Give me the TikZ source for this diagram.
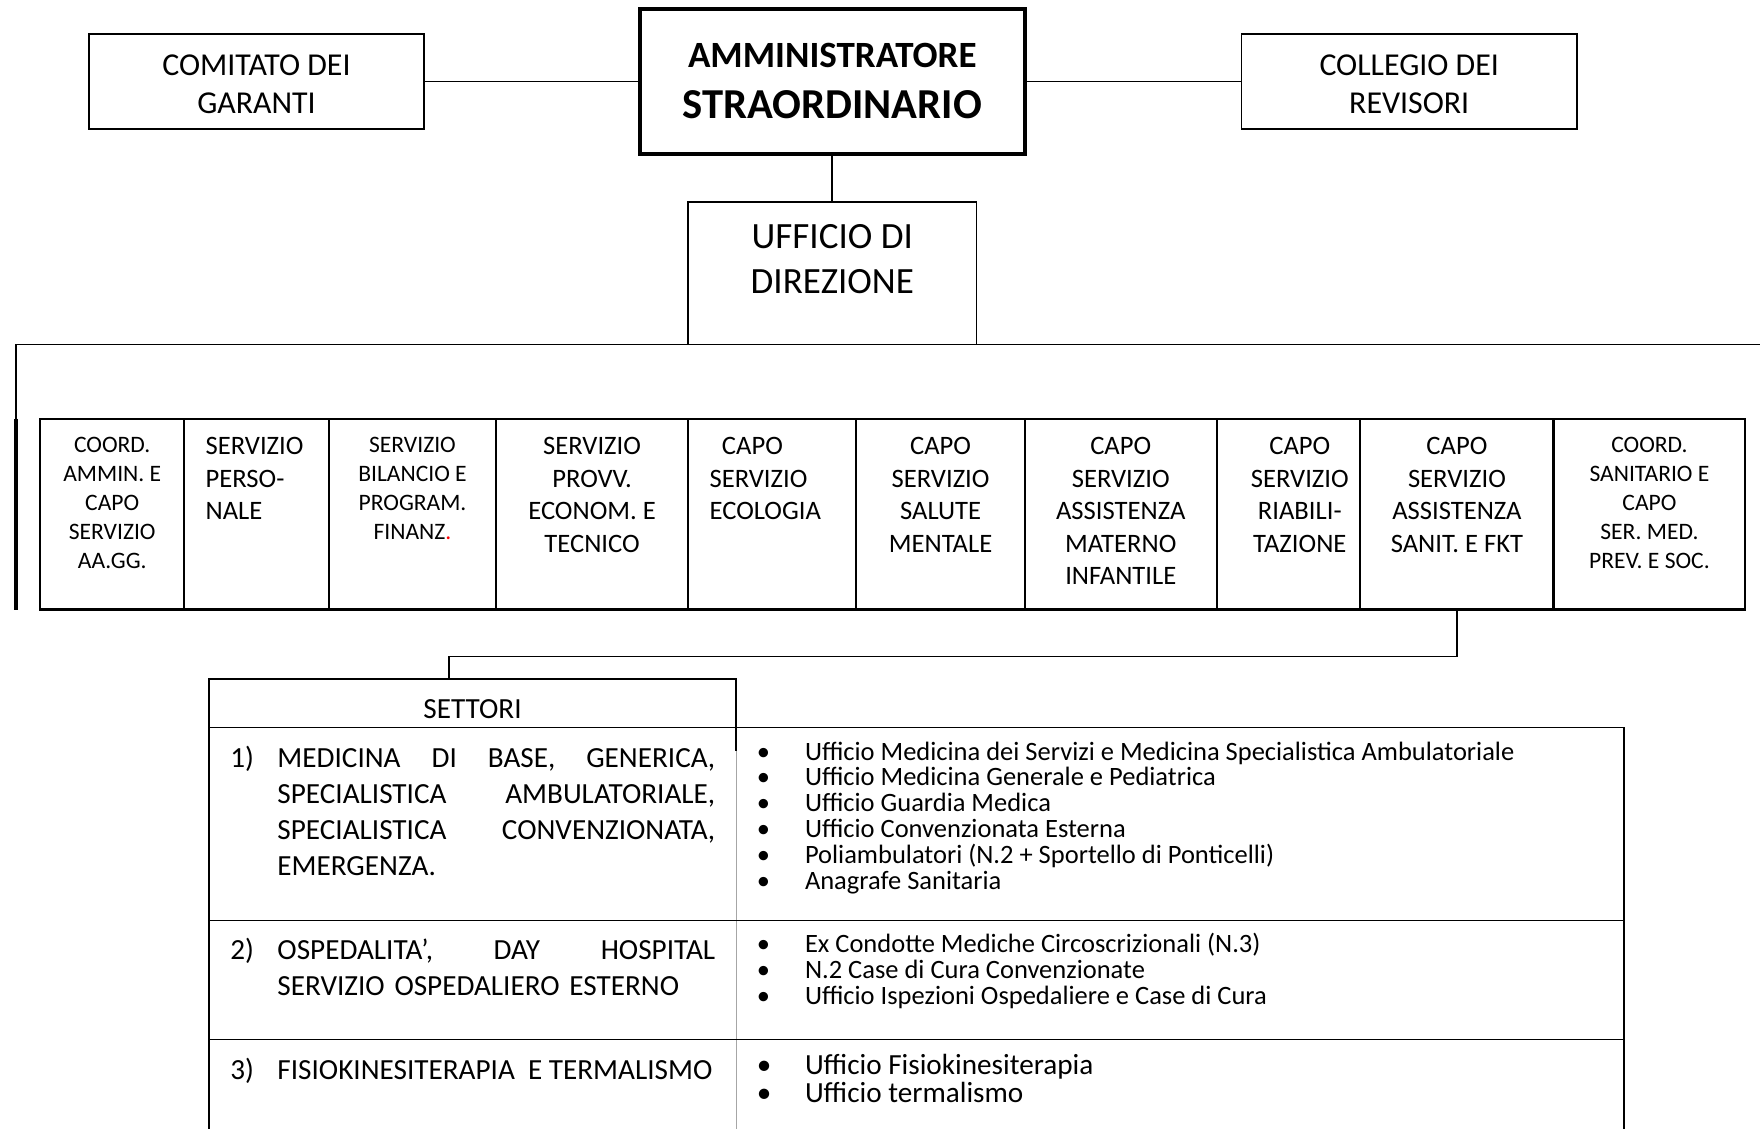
\documentclass[tikz,border=0pt]{standalone}
\usepackage{fontspec}
\setmainfont{Carlito}
\usepackage{tikz}
\usetikzlibrary{positioning}
\newcommand{\fsz}[2]{\fontsize{#1}{#2}\selectfont}
\newcommand{\capstrut}{\rule{0pt}{.7\baselineskip}}
\newcommand{\dotitem}{\makebox[43pt][l]{\textbullet}}
\tikzstyle{box} = [rectangle, draw, line width=1.5, inner sep=0, outer sep=0, align=center]
\tikzstyle{boss} = [rectangle, draw, line width=4, inner sep=0, outer sep=0, align=center, font=\bfseries\fsz{33}{45.6}]
\tikzstyle{unit} = [rectangle, draw, line width=1.8, inner sep=0, outer sep=0, minimum height=170]
\tikzstyle{unitsmall} = [inner sep=0, align=center, font=\fsz{21}{26}]
\tikzstyle{unitbig} = [inner sep=0, align=center, font=\fsz{23.7}{29}]
\tikzstyle{link} = [line width=1.5]
\tikzstyle{settext} = [inner sep=0, anchor=north west, align=left, font=\fsz{26}{32}]
\tikzstyle{office} = [inner sep=0, anchor=north west, align=left, font=\fsz{23.6}{23}]

\begin{document}
\begin{tikzpicture}[x=1pt, y=-1pt]
\fill[white] (0,0) rectangle (1568,1005);
\useasboundingbox (0,0) rectangle (1568,1005);

% vertice
\node[boss, minimum width=343, minimum height=129] (amm) at (741.5,72.5) {AMMINISTRATORE\\{\fsz{38}{45.6}STRAORDINARIO}};
\node[box, minimum width=299, minimum height=85, font=\fsz{28.4}{34}] (comitato) at (228.5,72.5) {\rule{0pt}{23.2pt}COMITATO DEI\\GARANTI};
\node[box, minimum width=299, minimum height=85, font=\fsz{28.4}{34}] (collegio) at (1255.5,72.5) {\rule{0pt}{23.2pt}COLLEGIO DEI\\REVISORI};
\node[box, minimum width=257, minimum height=127, font=\fsz{33}{40}] (ufficio) at (741.5,243.5) {UFFICIO DI\\DIREZIONE\rule[-25.5pt]{0pt}{25.5pt}};

\draw[link] (comitato) -- (amm);
\draw[link] (amm) -- (collegio);
\draw[link] (amm) -- (ufficio);

% linea dei servizi
\coordinate (busL) at (14,307);
\coordinate (busR) at (1568,307);
\coordinate (barT) at (14,373);
\coordinate (barB) at (14,543);
\draw[link] (busR) -- (busL) -- (barT);
\draw[line width=3.6] (barT) -- (barB);

% servizi
\node[unit, minimum width=128, anchor=north west] (u1) at (36,373) {};
\node[unit, minimum width=129, right=0pt of u1] (u2) {};
\node[unit, minimum width=149, right=0pt of u2] (u3) {};
\node[unit, minimum width=171, right=0pt of u3] (u4) {};
\node[unit, minimum width=150, right=0pt of u4] (u5) {};
\node[unit, minimum width=150, right=0pt of u5] (u6) {};
\node[unit, minimum width=171, right=0pt of u6] (u7) {};
\node[unit, minimum width=128, right=0pt of u7] (u8) {};
\node[unit, minimum width=172, right=0pt of u8] (u9) {};
\node[unit, minimum width=171, right=0pt of u9] (u10) {};

\node[unitsmall, below=11.5pt of u1.north] (u1t) {\capstrut COORD.\\AMMIN. E\\CAPO\\SERVIZIO\\AA.GG.};
\node[unitbig, align=left, below right=11.5pt and 19pt of u2.north west] (u2t) {\capstrut SERVIZIO\\PERSO-\\NALE};
\node[unitsmall, below=11.5pt of u3.north] (u3t) {\capstrut SERVIZIO\\BILANCIO E\\PROGRAM.\\FINANZ\textcolor{red}{.}};
\node[unitbig, below=11.5pt of u4.north] (u4t) {\capstrut SERVIZIO\\PROVV.\\ECONOM. E\\TECNICO};
\node[unitbig, align=left, below right=11.5pt and 19pt of u5.north west] (u5t) {\capstrut\hspace*{11pt}CAPO\\SERVIZIO\\ECOLOGIA};
\node[unitbig, below=11.5pt of u6.north] (u6t) {\capstrut CAPO\\SERVIZIO\\SALUTE\\MENTALE};
\node[unitbig, below=11.5pt of u7.north] (u7t) {\capstrut CAPO\\SERVIZIO\\ASSISTENZA\\MATERNO\\INFANTILE};
\node[unitbig, below=11.5pt of u8.north, xshift=10pt] (u8t) {\capstrut CAPO\\SERVIZIO\\RIABILI-\\TAZIONE};
\node[unitbig, below=11.5pt of u9.north] (u9t) {\capstrut CAPO\\SERVIZIO\\ASSISTENZA\\SANIT. E FKT};
\node[unitsmall, below=11.5pt of u10.north] (u10t) {\capstrut COORD.\\SANITARIO E\\CAPO\\SER. MED.\\PREV. E SOC.};

% settori
\node[box, minimum width=470, minimum height=43, font=\fsz{26}{32}, text height=27.8pt, text depth=0pt] (settori) at (421,626.5) {SETTORI};
\coordinate (elbow) at (400,585);
\draw[link] (u9.south) |- (elbow) -- (elbow |- settori.north);

% tabella
\draw[link] (settori.south east) -- (1447,648) -- (1447,1010);
\draw[link] (settori.south west) -- (186,1010);
\draw[link] (settori.south east) -- (656,669);
\draw[line width=1, black!35] (656,669) -- (656,1010);
\draw[link] (186,820) -- (1447,820);
\draw[link] (186,926) -- (1447,926);

\node[settext] (n1) at (205,661) {\capstrut 1)};
\node[settext, text width=390] (s1) at (247,661) {\capstrut MEDICINA\hfill DI\hfill BASE,\hfill GENERICA,\\SPECIALISTICA\hfill AMBULATORIALE,\\SPECIALISTICA\hfill CONVENZIONATA,\\EMERGENZA.};
\node[settext] (n2) at (205,832) {\capstrut 2)};
\node[settext, text width=390] (s2) at (247,832) {\capstrut OSPEDALITA',\hfill DAY\hfill HOSPITAL\\SERVIZIO OSPEDALIERO ESTERNO};
\node[settext] (n3) at (205,939) {\capstrut 3)};
\node[settext] (s3) at (247,939) {\capstrut FISIOKINESITERAPIA\ \ E TERMALISMO};

\node[office] (o1) at (674,660.5) {\capstrut\dotitem Ufficio Medicina dei Servizi e Medicina Specialistica Ambulatoriale\\\dotitem Ufficio Medicina Generale e Pediatrica\\\dotitem Ufficio Guardia Medica\\\dotitem Ufficio Convenzionata Esterna\\\dotitem Poliambulatori (N.2 + Sportello di Ponticelli)\\\dotitem Anagrafe Sanitaria};
\node[office] (o2) at (674,831.5) {\capstrut\dotitem Ex Condotte Mediche Circoscrizionali (N.3)\\\dotitem N.2 Case di Cura Convenzionate\\\dotitem Ufficio Ispezioni Ospedaliere e Case di Cura};
\node[office, font=\fsz{26}{25}] (o3) at (674,938.9) {\capstrut\dotitem Ufficio Fisiokinesiterapia\\\dotitem Ufficio termalismo};
\end{tikzpicture}
\end{document}
